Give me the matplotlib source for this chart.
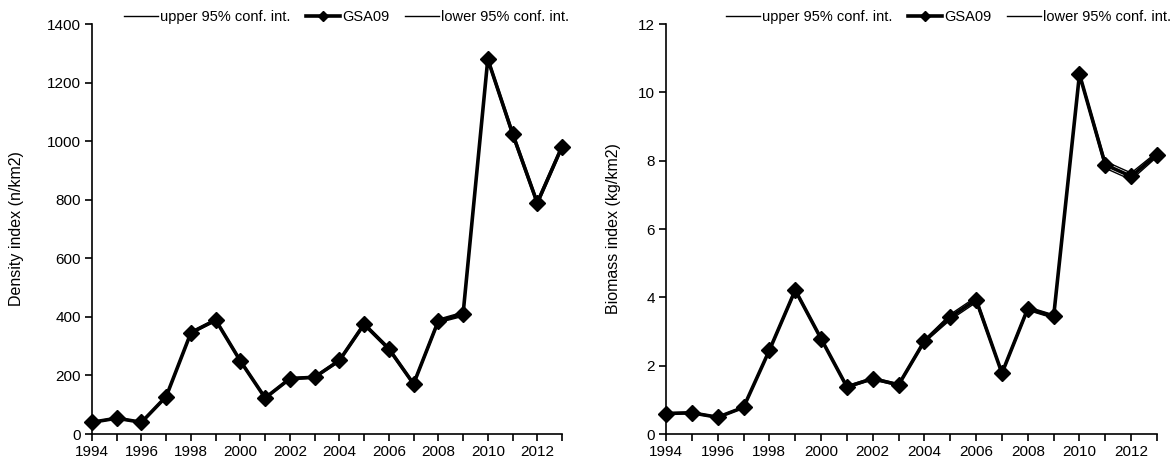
import numpy as np
import matplotlib.pyplot as plt

plt.rcParams['font.family'] = ['Liberation Sans', 'DejaVu Sans']

years = list(range(1994, 2014))

# density index (n/km2)
density = [40, 54, 40, 128, 346, 389, 249, 123, 189, 194, 251, 375, 291, 171, 386, 409, 1280, 1026, 789, 981]
density_upper = [42, 56, 42, 131, 350, 393, 253, 126, 192, 197, 255, 380, 296, 175, 392, 416, 1288, 1036, 798, 989]
density_lower = [38, 52, 38, 125, 342, 385, 245, 120, 186, 191, 247, 370, 286, 167, 380, 402, 1272, 1016, 780, 973]

# biomass index (kg/km2)
biomass = [0.60, 0.62, 0.49, 0.78, 2.45, 4.21, 2.79, 1.38, 1.62, 1.44, 2.72, 3.42, 3.93, 1.78, 3.67, 3.44, 10.53, 7.88, 7.54, 8.18]
biomass_upper = [0.62, 0.64, 0.51, 0.80, 2.48, 4.25, 2.82, 1.41, 1.65, 1.47, 2.76, 3.50, 4.01, 1.81, 3.72, 3.49, 10.58, 7.98, 7.64, 8.25]
biomass_lower = [0.58, 0.60, 0.47, 0.76, 2.42, 4.17, 2.76, 1.35, 1.59, 1.41, 2.68, 3.34, 3.85, 1.75, 3.62, 3.39, 10.48, 7.78, 7.44, 8.11]

fig = plt.figure(figsize=(11.73, 4.65), dpi=100)
ax1 = fig.add_axes([92/1173, 31/465, 470/1173, 410/465])
ax2 = fig.add_axes([666/1173, 31/465, 491/1173, 410/465])

def draw(ax, upper, mid, lower, ylim, yticks, ylabel, label_x, legend_x):
    ax.plot(years, upper, color='black', lw=1.0, label='upper 95% conf. int.', clip_on=False)
    ax.plot(years, mid, color='black', lw=2.6, marker='D', markersize=8.5,
            label='GSA09', clip_on=False, zorder=3)
    ax.plot(years, lower, color='black', lw=1.0, label='lower 95% conf. int.', clip_on=False)
    ax.set_xlim(1994, 2013)
    ax.set_ylim(*ylim)
    ax.set_yticks(yticks)
    ax.set_xticks(years)
    ax.set_xticklabels([str(y) if y % 2 == 0 else '' for y in years])
    ax.spines['top'].set_visible(False)
    ax.spines['right'].set_visible(False)
    for s in ['left', 'bottom']:
        ax.spines[s].set_linewidth(1.2)
    ax.tick_params(direction='out', length=5, width=1.2, labelsize=11, pad=3)
    ax.set_ylabel(ylabel, fontsize=11.5)
    ax.yaxis.set_label_coords(label_x, 0.5)
    h, l = ax.get_legend_handles_labels()
    fig.legend(h, l, loc='center right', bbox_to_anchor=(legend_x, 1 - 17/465),
               ncol=3, frameon=False, fontsize=10.5, handlelength=2.3,
               handletextpad=0.15, columnspacing=1.1, markerscale=0.55,
               borderaxespad=0, borderpad=0)

draw(ax1, density_upper, density, density_lower, (0, 1400), range(0, 1401, 200),
     'Density index (n/km2)', -0.145, 569/1173)
draw(ax2, biomass_upper, biomass, biomass_lower, (0, 12), range(0, 13, 2),
     'Biomass index (kg/km2)', -0.092, 1171/1173)

fig.savefig('out.png', dpi=100)
